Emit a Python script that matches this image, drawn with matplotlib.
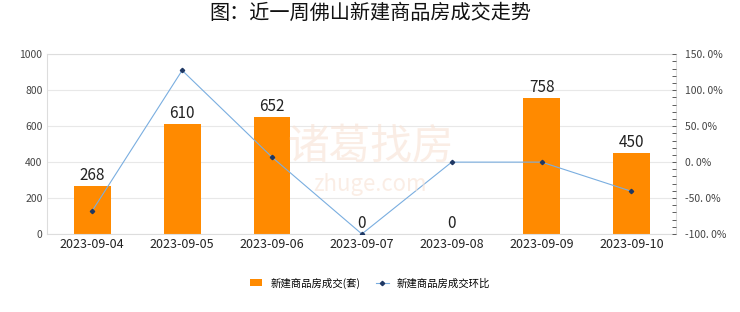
#!/usr/bin/env python3
'''Foshan new housing weekly deals'''
import matplotlib.pyplot as plt
from matplotlib.ticker import FuncFormatter, MultipleLocator

plt.rcParams['font.family'] = ['Noto Sans CJK SC', 'DejaVu Sans']

dates = ['2023-09-04', '2023-09-05', '2023-09-06', '2023-09-07',
         '2023-09-08', '2023-09-09', '2023-09-10']
deals = [268, 610, 652, 0, 0, 758, 450]
ratio = [-67.6, 127.6, 6.9, -100.0, 0.0, 0.0, -40.6]

fig, ax = plt.subplots(figsize=(7.4, 3.12), dpi=100)
fig.subplots_adjust(left=0.064, right=0.914, top=0.826, bottom=0.25)

xs = range(len(dates))
bars = ax.bar(xs, deals, width=0.41, color='#ff8a00', zorder=2,
              label='新建商品房成交(套)')
for x, v in zip(xs, deals):
    ax.text(x, v + 12, str(v), ha='center', va='bottom', fontsize=11,
            color='#222222', zorder=5)
ax.set_ylim(0, 1000)
ax.set_xlim(-0.5, len(dates) - 0.5)
ax.yaxis.set_major_locator(MultipleLocator(200))
ax.set_xticks(list(xs))
ax.set_xticklabels(dates, fontsize=9, color='#222222')
ax.tick_params(axis='y', labelsize=7.5, colors='#444444', length=0)
ax.tick_params(axis='x', length=0, pad=3)
ax.grid(axis='y', color='#e8e8e8', linewidth=0.8, zorder=0)
for s in ax.spines.values():
    s.set_color('#dddddd')
    s.set_linewidth(0.8)

ax2 = ax.twinx()
line, = ax2.plot(xs, ratio, color='#7aaee0', linewidth=0.8, marker='D',
                 markersize=2.2, markerfacecolor='#1f3864',
                 markeredgecolor='#1f3864', zorder=4, label='新建商品房成交环比')
ax2.set_ylim(-100, 150)
ax2.yaxis.set_major_locator(MultipleLocator(50))
ax2.yaxis.set_minor_locator(MultipleLocator(10))
ax2.yaxis.set_major_formatter(FuncFormatter(lambda v, p: f'{v:.1f}%'.replace('.', '. ')))
ax2.tick_params(axis='y', which='both', direction='in', labelsize=7.5,
                colors='#444444', length=3, width=0.6, pad=6)
for s in ax2.spines.values():
    s.set_visible(False)

# watermark
fig.text(0.5, 0.53, '诸葛找房', fontsize=30, color='#f8e2d4', ha='center',
         va='center', zorder=0, alpha=0.6)
fig.text(0.5, 0.41, 'zhuge.com', fontsize=16, color='#f8e2d4', ha='center',
         va='center', zorder=0, alpha=0.6)

fig.suptitle('图：近一周佛山新建商品房成交走势', fontsize=14.5, y=0.99,
             color='#111111', fontweight='medium')
fig.legend(handles=[bars, line], loc='lower center', ncol=2, frameon=False,
           fontsize=7.5, bbox_to_anchor=(0.5, 0.045), handlelength=1.2,
           handleheight=0.7, columnspacing=1.5)

plt.savefig('out.png')
